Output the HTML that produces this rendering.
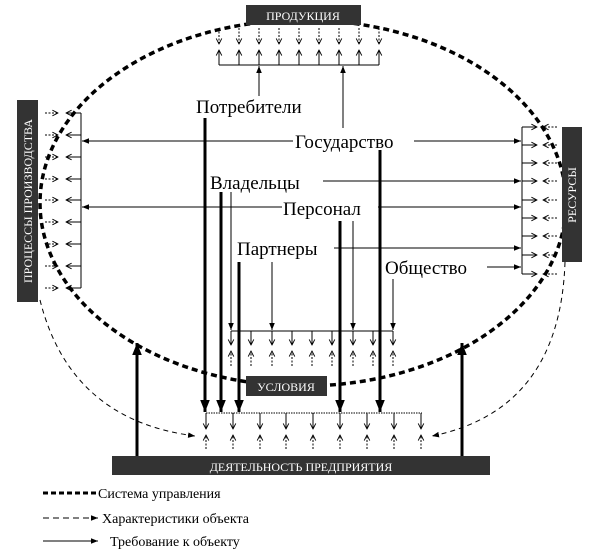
<!DOCTYPE html>
<html><head><meta charset="utf-8"><style>body{margin:0;background:#fff}svg{display:block}</style></head><body>
<svg width="609" height="559" viewBox="0 0 609 559" xmlns="http://www.w3.org/2000/svg" font-family="Liberation Serif, serif">
<defs>
<marker id="a" viewBox="0 0 10 10" refX="10" refY="5" markerWidth="7" markerHeight="7" orient="auto"><path d="M0,1 L10,5 L0,9 z" fill="#000"/></marker>
<marker id="ab" viewBox="0 0 10 10" refX="10" refY="5" markerWidth="4" markerHeight="4" orient="auto"><path d="M0,1 L10,5 L0,9 z" fill="#000"/></marker>
<marker id="o" viewBox="0 0 10 10" refX="9" refY="5" markerWidth="7" markerHeight="7" orient="auto"><path d="M1,1 L9,5 L1,9" fill="none" stroke="#000" stroke-width="1.3"/></marker>
</defs>
<ellipse cx="303" cy="203" rx="263" ry="183" fill="none" stroke="#000" stroke-width="3.5" stroke-dasharray="6,4"/>
<path d="M40,300 Q70,420 195,436" fill="none" stroke="#000" stroke-dasharray="5,4" marker-end="url(#a)"/>
<path d="M565,262 Q560,410 432,436" fill="none" stroke="#000" stroke-dasharray="5,4" marker-end="url(#a)"/>
<g fill="#333">
<rect x="246" y="5" width="115" height="20"/>
<rect x="17" y="100" width="21" height="202"/>
<rect x="562" y="127" width="20" height="135"/>
<rect x="246" y="376" width="81" height="20"/>
<rect x="112" y="456" width="378" height="19"/>
</g>
<g fill="#fff" font-size="12" text-anchor="middle">
<text x="303" y="20">ПРОДУКЦИЯ</text>
<text x="286" y="391">УСЛОВИЯ</text>
<text x="301" y="471">ДЕЯТЕЛЬНОСТЬ ПРЕДПРИЯТИЯ</text>
<text transform="translate(32,201) rotate(-90)">ПРОЦЕССЫ ПРОИЗВОДСТВА</text>
<text transform="translate(576,195) rotate(-90)">РЕСУРСЫ</text>
</g>
<g stroke="#000" stroke-width="1" fill="none">
<path d="M219,65 H379"/><path d="M81,113 V288"/><path d="M522,127 V274"/><path d="M231,331 H393"/><path d="M206,413 H422" stroke-dasharray="1.5,1"/>
</g>
<g stroke="#000" stroke-width="1" fill="none" marker-end="url(#o)">
<!-- top dotted down -->
<g stroke-dasharray="2,1.5">
<line x1="219" y1="28" x2="219" y2="44"/><line x1="239" y1="28" x2="239" y2="44"/><line x1="259" y1="28" x2="259" y2="44"/><line x1="279" y1="28" x2="279" y2="44"/><line x1="299" y1="28" x2="299" y2="44"/><line x1="319" y1="28" x2="319" y2="44"/><line x1="339" y1="28" x2="339" y2="44"/><line x1="359" y1="28" x2="359" y2="44"/><line x1="379" y1="28" x2="379" y2="44"/>
</g>
<line x1="219" y1="65" x2="219" y2="50"/><line x1="239" y1="65" x2="239" y2="50"/><line x1="259" y1="65" x2="259" y2="50"/><line x1="279" y1="65" x2="279" y2="50"/><line x1="299" y1="65" x2="299" y2="50"/><line x1="319" y1="65" x2="319" y2="50"/><line x1="339" y1="65" x2="339" y2="50"/><line x1="359" y1="65" x2="359" y2="50"/><line x1="379" y1="65" x2="379" y2="50"/>
<!-- left -->
<g stroke-dasharray="2,1.5">
<line x1="45" y1="113" x2="58" y2="113"/><line x1="45" y1="135" x2="58" y2="135"/><line x1="45" y1="157" x2="58" y2="157"/><line x1="45" y1="179" x2="58" y2="179"/><line x1="45" y1="200" x2="58" y2="200"/><line x1="45" y1="222" x2="58" y2="222"/><line x1="45" y1="244" x2="58" y2="244"/><line x1="45" y1="266" x2="58" y2="266"/><line x1="45" y1="288" x2="58" y2="288"/>
</g>
<line x1="81" y1="113" x2="66" y2="113"/><line x1="81" y1="135" x2="66" y2="135"/><line x1="81" y1="157" x2="66" y2="157"/><line x1="81" y1="179" x2="66" y2="179"/><line x1="81" y1="200" x2="66" y2="200"/><line x1="81" y1="222" x2="66" y2="222"/><line x1="81" y1="244" x2="66" y2="244"/><line x1="81" y1="266" x2="66" y2="266"/><line x1="81" y1="288" x2="66" y2="288"/>
<!-- right -->
<line x1="522" y1="127" x2="537" y2="127"/><line x1="522" y1="145" x2="537" y2="145"/><line x1="522" y1="163" x2="537" y2="163"/><line x1="522" y1="181" x2="537" y2="181"/><line x1="522" y1="200" x2="537" y2="200"/><line x1="522" y1="218" x2="537" y2="218"/><line x1="522" y1="236" x2="537" y2="236"/><line x1="522" y1="255" x2="537" y2="255"/><line x1="522" y1="274" x2="537" y2="274"/>
<g stroke-dasharray="2,1.5">
<line x1="557" y1="127" x2="543" y2="127"/><line x1="557" y1="145" x2="543" y2="145"/><line x1="557" y1="163" x2="543" y2="163"/><line x1="557" y1="181" x2="543" y2="181"/><line x1="557" y1="200" x2="543" y2="200"/><line x1="557" y1="218" x2="543" y2="218"/><line x1="557" y1="236" x2="543" y2="236"/><line x1="557" y1="255" x2="543" y2="255"/><line x1="557" y1="274" x2="543" y2="274"/>
</g>
<!-- conditions -->
<line x1="231" y1="331" x2="231" y2="345"/><line x1="251" y1="331" x2="251" y2="345"/><line x1="272" y1="331" x2="272" y2="345"/><line x1="292" y1="331" x2="292" y2="345"/><line x1="312" y1="331" x2="312" y2="345"/><line x1="332" y1="331" x2="332" y2="345"/><line x1="353" y1="331" x2="353" y2="345"/><line x1="373" y1="331" x2="373" y2="345"/><line x1="393" y1="331" x2="393" y2="345"/>
<g stroke-dasharray="2,1.5">
<line x1="231" y1="366" x2="231" y2="351"/><line x1="251" y1="366" x2="251" y2="351"/><line x1="272" y1="366" x2="272" y2="351"/><line x1="292" y1="366" x2="292" y2="351"/><line x1="312" y1="366" x2="312" y2="351"/><line x1="332" y1="366" x2="332" y2="351"/><line x1="353" y1="366" x2="353" y2="351"/><line x1="373" y1="366" x2="373" y2="351"/><line x1="393" y1="366" x2="393" y2="351"/>
</g>
<!-- bottom -->
<line x1="206" y1="413" x2="206" y2="429"/><line x1="233" y1="413" x2="233" y2="429"/><line x1="260" y1="413" x2="260" y2="429"/><line x1="286" y1="413" x2="286" y2="429"/><line x1="313" y1="413" x2="313" y2="429"/><line x1="340" y1="413" x2="340" y2="429"/><line x1="367" y1="413" x2="367" y2="429"/><line x1="394" y1="413" x2="394" y2="429"/><line x1="421" y1="413" x2="421" y2="429"/>
<g stroke-dasharray="2,1.5">
<line x1="206" y1="449" x2="206" y2="435"/><line x1="233" y1="449" x2="233" y2="435"/><line x1="260" y1="449" x2="260" y2="435"/><line x1="286" y1="449" x2="286" y2="435"/><line x1="313" y1="449" x2="313" y2="435"/><line x1="340" y1="449" x2="340" y2="435"/><line x1="367" y1="449" x2="367" y2="435"/><line x1="394" y1="449" x2="394" y2="435"/><line x1="421" y1="449" x2="421" y2="435"/>
</g>
</g>
<g stroke="#000" stroke-width="1" marker-end="url(#a)" fill="none">
<path d="M259,96 V66"/>
<path d="M343,128 V66"/>
<path d="M293,141 H82"/>
<path d="M414,141 H521"/>
<path d="M323,181 H521"/>
<path d="M282,207 H82"/>
<path d="M378,207 H521"/>
<path d="M334,248 H521"/>
<path d="M487,267 H521"/>
<path d="M231,192 V330"/>
<path d="M272,262 V330"/>
<path d="M353,221 V330"/>
<path d="M393,279 V330"/>
</g>
<g stroke="#000" stroke-width="3" marker-end="url(#ab)" fill="none">
<path d="M205,118 V412"/>
<path d="M221,192 V412"/>
<path d="M239,262 V412"/>
<path d="M340,221 V412"/>
<path d="M380,150 V412"/>
<path d="M137,456 V343"/>
<path d="M462,456 V343"/>
</g>
<g font-size="19" fill="#000">
<text x="196" y="113">Потребители</text>
<text x="295" y="148">Государство</text>
<text x="210" y="189">Владельцы</text>
<text x="283" y="215">Персонал</text>
<text x="237" y="255">Партнеры</text>
<text x="385" y="274">Общество</text>
</g>
<g stroke="#000" fill="none">
<path d="M43,493 H97" stroke-width="3" stroke-dasharray="5,3"/>
<path d="M43,518 H98" stroke-dasharray="6,4" marker-end="url(#a)"/>
<path d="M43,541 H98" marker-end="url(#a)"/>
</g>
<g font-size="14" fill="#000">
<text x="98" y="498">Система управления</text>
<text x="102" y="523">Характеристики  объекта</text>
<text x="110" y="546">Требование к объекту</text>
</g>
</svg>
</body></html>
